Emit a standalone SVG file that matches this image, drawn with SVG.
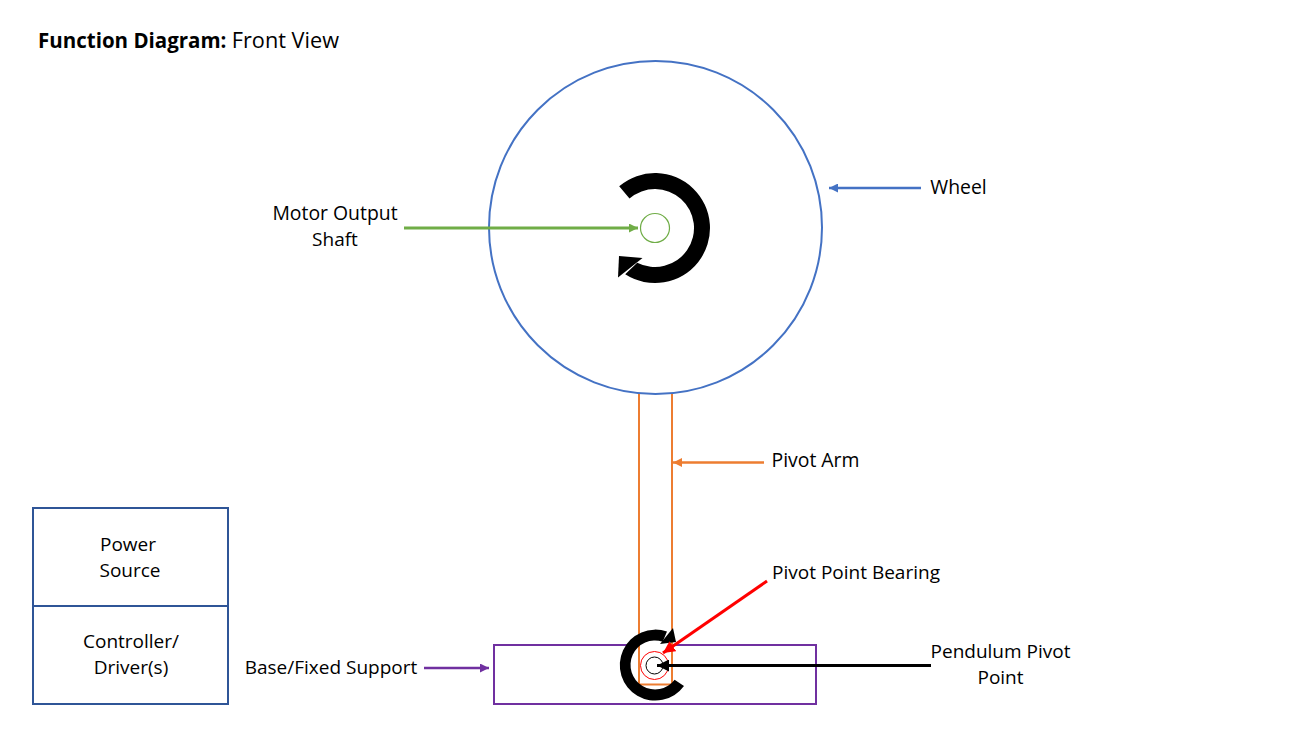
<svg xmlns="http://www.w3.org/2000/svg" width="1311" height="737" viewBox="0 0 1311 737">
<style>
text{font-family:"Open Sans","Noto Sans","Liberation Sans",sans-serif;font-size:19px;fill:#000;text-anchor:middle}
.none{fill:none}
.blue{stroke:#4472c4;stroke-width:2}
.orange{stroke:#ed7d31;stroke-width:2}
.navy{stroke:#2f5597;stroke-width:2;fill:none}
.purple{stroke:#7030a0;stroke-width:2}
</style>
<defs>
<marker id="ab" markerUnits="userSpaceOnUse" markerWidth="10" markerHeight="9" refX="9" refY="4.500" orient="auto"><path d="M0 0L9 4.500L0 9Z" fill="#4472c4"/></marker>
<marker id="ag" markerUnits="userSpaceOnUse" markerWidth="10" markerHeight="9" refX="9" refY="4.500" orient="auto"><path d="M0 0L9 4.500L0 9Z" fill="#70ad47"/></marker>
<marker id="ao" markerUnits="userSpaceOnUse" markerWidth="10" markerHeight="9" refX="9" refY="4.500" orient="auto"><path d="M0 0L9 4.500L0 9Z" fill="#ed7d31"/></marker>
<marker id="ap" markerUnits="userSpaceOnUse" markerWidth="10" markerHeight="9" refX="9" refY="4.500" orient="auto"><path d="M0 0L9 4.500L0 9Z" fill="#7030a0"/></marker>
<marker id="ar" markerUnits="userSpaceOnUse" markerWidth="13" markerHeight="12" refX="12" refY="6" orient="auto"><path d="M0 0L12 6L0 12Z" fill="#f00"/></marker>
<marker id="ak" markerUnits="userSpaceOnUse" markerWidth="13" markerHeight="12" refX="12" refY="6" orient="auto"><path d="M0 0L12 6L0 12Z" fill="#000"/></marker>
</defs>
<text id="title" x="38" y="47.500" style="text-anchor:start;font-size:20.500px"><tspan font-weight="700">Function Diagram:</tspan> <tspan style="font-size:21.700px">Front View</tspan></text>
<g id="wheel"><circle cx="655.500" cy="227.500" r="166.500" fill="#fff" class="blue"/><text x="958.500" y="193.500" style="font-size:19.400px">Wheel</text></g>
<g id="motor-rotation"><path d="M619.200 186.300A55 55 0 1 1 625.200 274.300L637.200 262.700A39 39 0 1 0 629.500 198.500Z" fill="#000"/><path d="M619 256L642.500 258L618 277.500Z" fill="#000"/></g>
<g id="motor-shaft"><circle cx="655" cy="228" r="14.500" fill="#fff" stroke="#70ad47" stroke-width="1.200"/><text x="335" y="220" style="font-size:19.400px">Motor Output</text><text x="335" y="245.500">Shaft</text></g>
<g id="base"><rect x="494" y="645" width="322" height="59" class="none purple"/><text x="331" y="673.500">Base/Fixed Support</text></g>
<g id="pivot-arm"><rect x="640" y="640" width="31" height="44" fill="#fff"/><path d="M639 394V684.500H672V394" class="none orange"/><text x="815.500" y="466.500" style="font-size:19.400px">Pivot Arm</text></g>
<g id="pivot-rotation"><path d="M684 686A35.500 35.500 0 1 1 667 631.600L662.700 641.700A24.500 24.500 0 1 0 674.600 679.700Z" fill="#000"/><path d="M673 628L676 642L660 644Z" fill="#000"/></g>
<g id="pivot-bearing"><circle cx="654.500" cy="665.500" r="14" class="none" stroke="#f00" stroke-width="1"/><text x="856" y="578.500">Pivot Point Bearing</text></g>
<g id="pendulum-pivot"><circle cx="654.500" cy="665.500" r="8.500" class="none" stroke="#000" stroke-width="1"/><text x="1000.500" y="657.500">Pendulum Pivot</text><text x="1000.500" y="683.500">Point</text></g>
<g id="power-source"><rect x="33" y="508" width="195" height="98" class="navy"/><text x="128" y="550.500">Power</text><text x="130" y="576.500">Source</text></g>
<g id="controller"><rect x="33" y="606" width="195" height="98" class="navy"/><text x="131" y="647.500">Controller/</text><text x="131" y="673.500">Driver(s)</text></g>
<g id="connectors" fill="none">
<line x1="921" y1="188" x2="829" y2="188" stroke="#4472c4" stroke-width="2.500" marker-end="url(#ab)"/>
<line x1="404" y1="228" x2="638" y2="228" stroke="#70ad47" stroke-width="3" marker-end="url(#ag)"/>
<line x1="764" y1="462.500" x2="673" y2="462.500" stroke="#ed7d31" stroke-width="2.500" marker-end="url(#ao)"/>
<line x1="424" y1="668" x2="489" y2="668" stroke="#7030a0" stroke-width="2.500" marker-end="url(#ap)"/>
<line x1="767" y1="581" x2="663" y2="653" stroke="#f00" stroke-width="3" marker-end="url(#ar)"/>
<line x1="931" y1="665.500" x2="657" y2="665.500" stroke="#000" stroke-width="3" marker-end="url(#ak)"/>
</g>
</svg>
